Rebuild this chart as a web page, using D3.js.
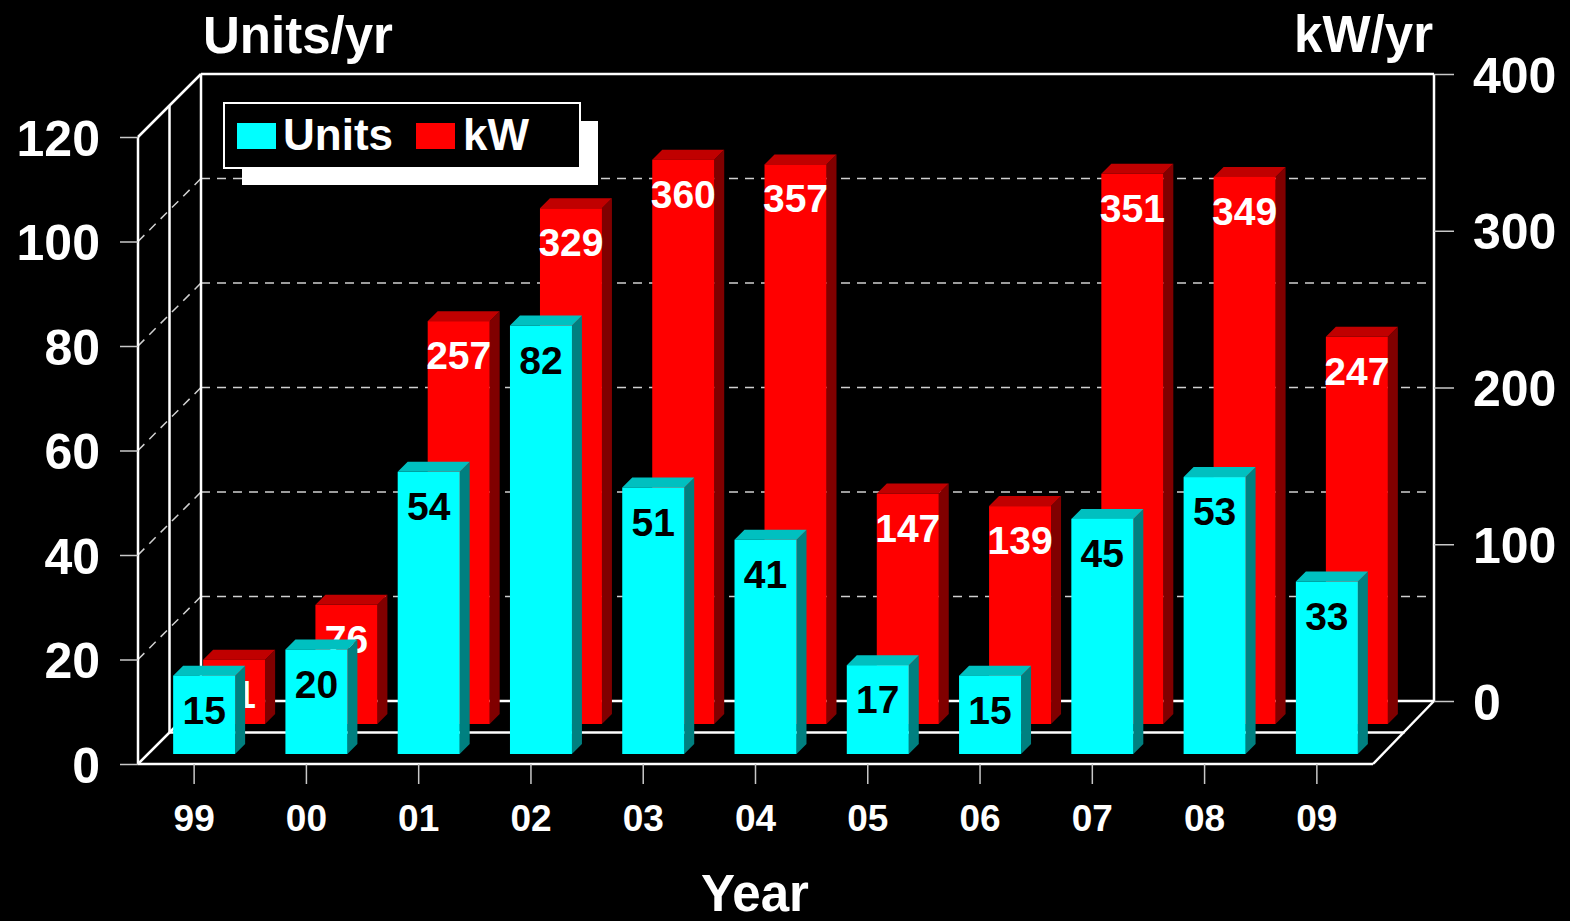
<!DOCTYPE html>
<html>
<meta charset="utf-8">
<head>
<script src="https://d3js.org/d3.v7.min.js"></script>
<style>
    body { margin: 0; background: #000; }
    svg { display: block; }
    text { font-family: "Liberation Sans", Arial, sans-serif; font-weight: bold; fill: #fff; }
    .axis text { font-size: 50px; }
    .xaxis text { font-size: 37px; }
    .axis line { stroke: #c8c8c8; stroke-width: 1.5px; }
    .frame { stroke: #fff; stroke-width: 2.5px; fill: none; }
    .grid { stroke: #d0d0d0; stroke-width: 1.5px; stroke-dasharray: 9,7; fill: none; }
</style>
</head>
<body>
<script>
// chart data
var years = ["99", "00", "01", "02", "03", "04", "05", "06", "07", "08", "09"];
var units = [15, 20, 54, 82, 51, 41, 17, 15, 45, 53, 33];
var kw    = [41, 76, 257, 329, 360, 357, 147, 139, 351, 349, 247];
var unitTicks = [0, 20, 40, 60, 80, 100, 120];
var kwTicks = [0, 100, 200, 300, 400];

var W = 1570, H = 921;
var depth = 63;          // depth of the floor (oblique offset)
var barDepth = 10;       // depth of one bar

var svg = d3.select("body").append("svg")
    .attr("width", W)
    .attr("height", H);

// scales: front plane for units, back wall for kW
var x = d3.scaleBand().domain(years).range([138, 1373])
    .paddingInner(0.448).paddingOuter(0.224);
var yU = d3.scaleLinear().domain([0, 120]).range([764, 137]);
var yK = d3.scaleLinear().domain([0, 400]).range([701, 74]);

var x0 = 138, x1 = 1373, yb = yU(0), yt = yU(120);

function line(p) { return "M" + p.map(function(d) { return d.join(","); }).join("L"); }

// dashed gridlines on left wall and back wall
unitTicks.filter(function(v) { return v > 0 && v < 120; }).forEach(function(v) {
    svg.append("path").attr("class", "grid")
        .attr("d", line([[x0, yU(v)], [x0 + depth, yU(v) - depth]]));
    svg.append("path").attr("class", "grid")
        .attr("d", line([[x0 + depth, yU(v) - depth], [x1 + depth - 2, yU(v) - depth]]));
});

// frame
var half = depth / 2;
var frame = [
    [[x0, yt], [x0, yb]],
    [[x0 + half, yt - half], [x0 + half, yb - half]],
    [[x0 + depth, yt - depth], [x0 + depth, yb - depth]],
    [[x0, yt], [x0 + depth, yt - depth]],
    [[x0 + depth, yt - depth], [x1 + depth - 2, yt - depth]],
    [[x1 + depth - 2, yt - depth], [x1 + depth - 2, yb - depth]],
    [[x0, yb], [x0 + depth, yb - depth]],
    [[x0, yb], [x1, yb]],
    [[x0 + half, yb - half], [x1 + half, yb - half]],
    [[x0 + depth, yb - depth], [x1 + depth - 2, yb - depth]],
    [[x1, yb], [x1 + depth - 2, yb - depth]]
];
frame.forEach(function(p) {
    svg.append("path").attr("class", "frame").attr("d", line(p));
});

// axes
svg.append("g").attr("class", "axis")
    .attr("transform", "translate(" + x0 + ",0)")
    .call(d3.axisLeft(yU).tickValues(unitTicks).tickSize(18).tickPadding(20))
    .call(function(g) { g.select(".domain").remove(); })
    .selectAll("text").attr("fill", "#fff").attr("dy", "0.36em");

svg.append("g").attr("class", "axis")
    .attr("transform", "translate(" + (x1 + depth - 2) + ",0)")
    .call(d3.axisRight(yK).tickValues(kwTicks).tickSize(20).tickPadding(19))
    .call(function(g) { g.select(".domain").remove(); })
    .selectAll("text").attr("fill", "#fff").attr("dy", "0.36em");

svg.append("g").attr("class", "axis xaxis")
    .attr("transform", "translate(0," + yb + ")")
    .call(d3.axisBottom(x).tickSize(20).tickPadding(21))
    .call(function(g) { g.select(".domain").remove(); })
    .selectAll("text").attr("fill", "#fff");

// 3d bars
function drawBars(values, yScale, z, cFace, cTop, cSide, cText) {
    var bw = x.bandwidth();
    var g = svg.append("g");
    var b = g.selectAll("g").data(values).enter().append("g");
    b.each(function(v, i) {
        var sel = d3.select(this);
        var left = x(years[i]) + z;
        var base = yb - z;
        var top = base - (yScale(0) - yScale(v));
        var right = left + bw;
        sel.append("path").attr("fill", cSide)
            .attr("d", line([[right, top], [right + barDepth, top - barDepth],
                [right + barDepth, base - barDepth], [right, base]]) + "Z");
        sel.append("path").attr("fill", cTop)
            .attr("d", line([[left, top], [left + barDepth, top - barDepth],
                [right + barDepth, top - barDepth], [right, top]]) + "Z");
        sel.append("rect").attr("fill", cFace)
            .attr("x", left).attr("y", top)
            .attr("width", bw).attr("height", base - top);
        sel.append("text")
            .attr("x", left + bw / 2)
            .attr("y", top + 48)
            .attr("text-anchor", "middle")
            .style("font-size", "39px")
            .style("fill", cText)
            .text(v);
    });
}

drawBars(kw, yK, 40, "#ff0000", "#c00000", "#800000", "#ffffff");
drawBars(units, yU, 10, "#00ffff", "#00c0c0", "#008080", "#000000");

// titles
svg.append("text").attr("x", 203).attr("y", 53)
    .style("font-size", "51px").text("Units/yr");
svg.append("text").attr("x", 1433).attr("y", 52)
    .attr("text-anchor", "end")
    .style("font-size", "51px").text("kW/yr");
svg.append("text").attr("x", 755).attr("y", 911)
    .attr("text-anchor", "middle")
    .style("font-size", "51px").text("Year");

// legend
var lg = svg.append("g");
lg.append("rect").attr("x", 242).attr("y", 121).attr("width", 356).attr("height", 64)
    .attr("fill", "#fff");
lg.append("rect").attr("x", 224).attr("y", 103).attr("width", 356).attr("height", 65)
    .attr("fill", "#000").attr("stroke", "#fff").attr("stroke-width", 2);
lg.append("rect").attr("x", 237).attr("y", 123).attr("width", 39).attr("height", 26)
    .attr("fill", "#00ffff");
lg.append("text").attr("x", 283).attr("y", 150)
    .style("font-size", "44px").text("Units");
lg.append("rect").attr("x", 416).attr("y", 123).attr("width", 39).attr("height", 26)
    .attr("fill", "#ff0000");
lg.append("text").attr("x", 463).attr("y", 150)
    .style("font-size", "44px").text("kW");
</script>
</body>
</html>
